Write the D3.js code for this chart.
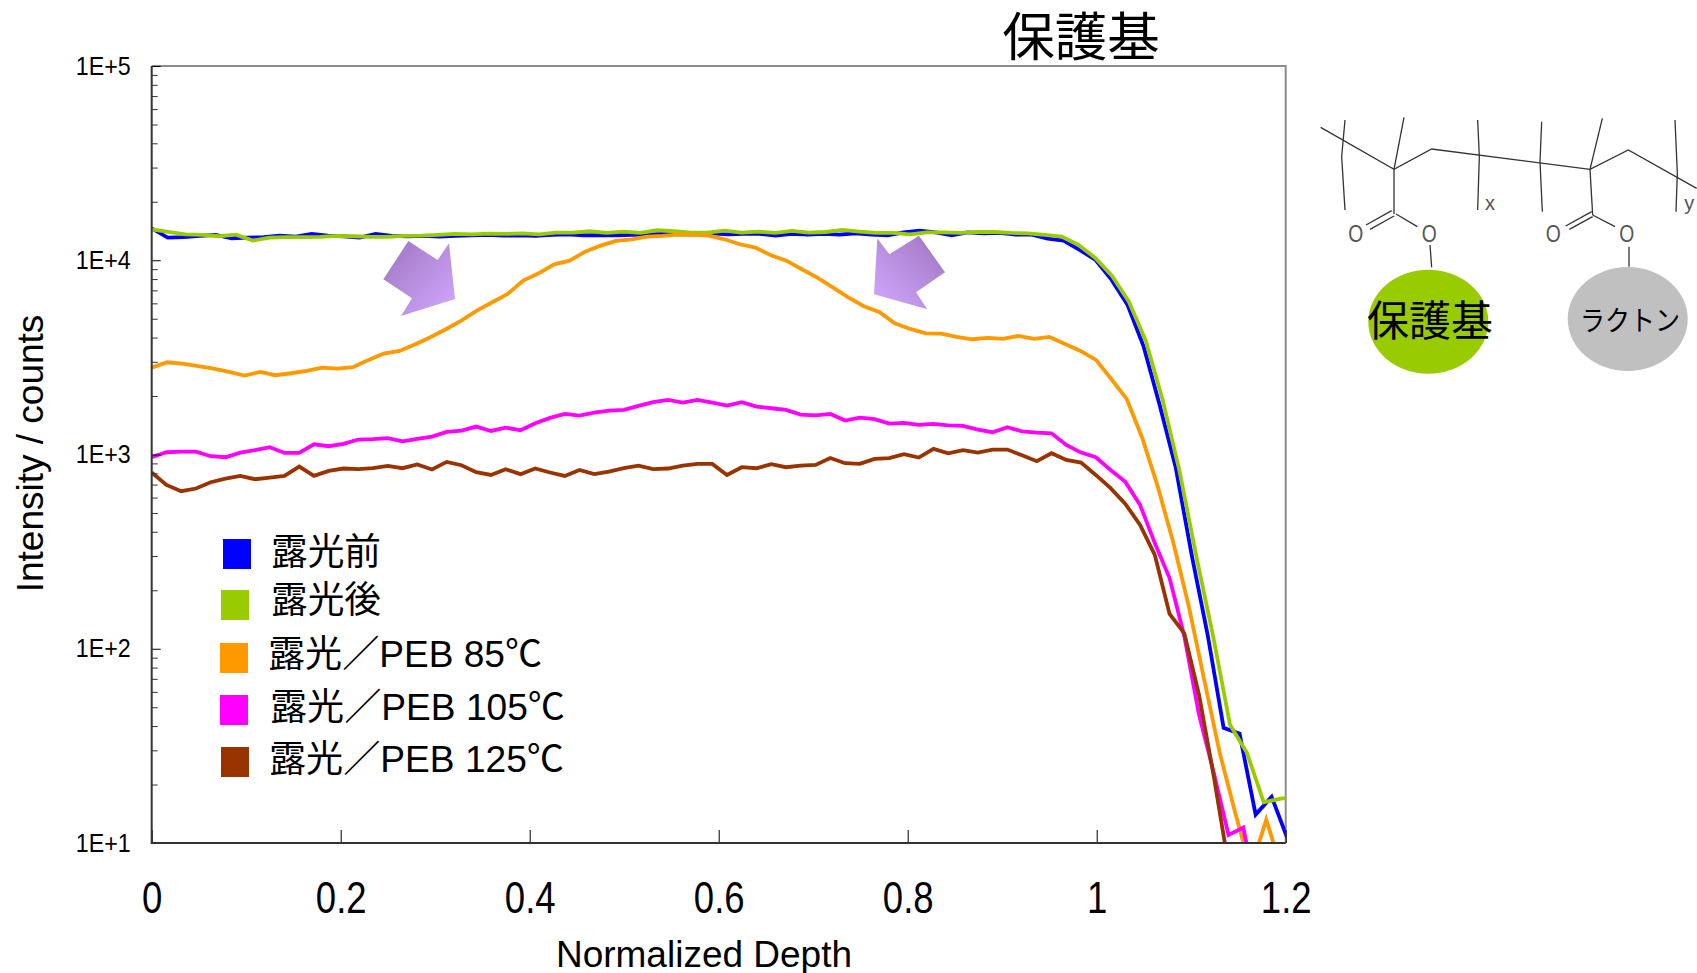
<!DOCTYPE html>
<html>
<head>
<meta charset="utf-8">
<script src="https://cdn.jsdelivr.net/npm/d3@7"></script>
<style>
  html, body { margin: 0; padding: 0; background: #fff; }
  svg { display: block; }
</style>
</head>
<body>
<svg id="chart"></svg>
<script>
// depth grids differ per profile, each one is normalized by its own film thickness
const depthBefore = [0,.0169,.0339,.0508,.0677,.0847,.1016,.1185,.1354,.1524,.1693,.1862,.2032,.2201,.2370,.2540,.2709,.2878,.3047,.3217,.3386,.3555,.3725,.3894,.4063,.4233,.4402,.4571,.4740,.4910,.5079,.5248,.5418,.5587,.5756,.5926,.6095,.6264,.6433,.6603,.6772,.6941,.7111,.7280,.7449,.7619,.7788,.7957,.8126,.8296,.8465,.8634,.8804,.8973,.9142,.9312,.9481,.9650,.9819,.9989,1.0158,1.0327,1.0497,1.0666,1.0835,1.1005,1.1174,1.1343,1.1512,1.1682,1.1851,1.2020]
const depthAfter = [0,.0178,.0357,.0535,.0713,.0892,.1070,.1248,.1426,.1605,.1783,.1961,.2140,.2318,.2496,.2675,.2853,.3031,.3209,.3388,.3566,.3744,.3923,.4101,.4279,.4458,.4636,.4814,.4992,.5171,.5349,.5527,.5706,.5884,.6062,.6241,.6419,.6597,.6775,.6954,.7132,.7310,.7489,.7667,.7845,.8024,.8202,.8380,.8558,.8737,.8915,.9093,.9272,.9450,.9628,.9807,.9985,1.0163,1.0341,1.0520,1.0698,1.0876,1.1055,1.1233,1.1411,1.1590,1.1768,1.1946,1.2124]
const depth85 = [0,.0164,.0328,.0491,.0655,.0819,.0983,.1147,.1310,.1474,.1638,.1802,.1966,.2129,.2293,.2457,.2621,.2785,.2948,.3112,.3276,.3440,.3604,.3767,.3931,.4095,.4259,.4423,.4586,.4750,.4914,.5078,.5242,.5405,.5569,.5733,.5897,.6061,.6224,.6388,.6552,.6716,.6880,.7043,.7207,.7371,.7535,.7699,.7862,.8026,.8190,.8354,.8518,.8681,.8845,.9009,.9173,.9337,.9500,.9664,.9828,.9992,1.0156,1.0319,1.0483,1.0647,1.0811,1.0975,1.1138,1.1302,1.1466,1.1630,1.1794,1.1957]
const depth105 = [0,.0156,.0312,.0468,.0624,.0781,.0937,.1093,.1249,.1405,.1561,.1717,.1873,.2029,.2185,.2342,.2498,.2654,.2810,.2966,.3122,.3278,.3434,.3590,.3746,.3903,.4059,.4215,.4371,.4527,.4683,.4839,.4995,.5151,.5307,.5464,.5620,.5776,.5932,.6088,.6244,.6400,.6556,.6712,.6868,.7025,.7181,.7337,.7493,.7649,.7805,.7961,.8117,.8273,.8429,.8586,.8742,.8898,.9054,.9210,.9366,.9522,.9678,.9834,.9990,1.0147,1.0303,1.0459,1.0615,1.0771,1.0927,1.1083,1.1239,1.1395,1.1551,1.1708]

const before = [14600,13080,13140,13340,13500,12980,13080,13140,13390,13240,13660,13390,13290,13080,13660,13340,13290,13340,13240,13340,13450,13500,13390,13450,13340,13500,13600,13450,13450,13450,13500,13550,13710,13600,13600,13760,13600,13660,13660,13390,13660,13550,13660,13550,13760,13550,13450,13930,14210,13930,13450,13930,13760,13820,13550,13550,12930,12630,11300,10035,7920,5886,3590,1800,863,304,118,39.2,36.5,14.0,17.3,10.5]
const after = [14440,13980,13600,13500,13290,13550,12630,13080,13140,13140,13190,13340,13290,13190,13190,13340,13390,13500,13660,13600,13710,13660,13760,13600,13870,13870,14100,13820,14040,13820,14270,14100,13870,13870,14210,13870,14040,13820,14150,13870,13980,14320,14040,13820,13820,13600,13930,13930,13820,13980,13980,13820,13760,13500,13240,11990,10280,8302,6122,3843,1910,823.6,298.1,115.6,40.6,29.1,16.2,16.9,17.3]
const peb85 = [2802,2985,2938,2847,2768,2661,2549,2661,2559,2620,2693,2802,2768,2813,3068,3307,3414,3680,4013,4414,4890,5506,6077,6708,7856,8568,9532,9956,11076,11895,12570,12820,13230,13340,13550,13500,13390,12820,12085,11615,10607,9956,8985,8140,7260,6447,5796,5420,4737,4431,4207,4191,4030,3920,3982,3935,4077,3935,4030,3708,3414,3068,2441,1926,1213,681,351,165,69.2,29.1,14.3,7.3,13.2,7.3]
const peb105 = [968,1027,1035,1035,980,968,1023,1052,1090,1019,1019,1129,1103,1134,1194,1199,1213,1170,1203,1236,1307,1328,1392,1322,1376,1333,1448,1543,1618,1586,1644,1683,1696,1779,1858,1910,1850,1910,1850,1786,1858,1765,1730,1696,1605,1592,1618,1495,1549,1519,1443,1454,1420,1437,1414,1403,1344,1302,1381,1317,1296,1286,1120,1023,968,833,723,550,350,231,116,45.7,23.0,11.0,12.0,5.1]
const peb125 = [808,697,647,668,720,752,776,746,761,776,867,776,824,847,840,850,874,850,888,837,916,881,811,785,840,792,847,808,776,833,792,817,850,877,840,847,877,895,895,785,860,850,891,860,877,884,960,902,895,949,957,1003,964,1069,1015,1052,1023,1060,1060,991,923,1015,938,908,785,671,557,434,304,151,120,57.9,22.0,7.7]

const seriesNames = ['露光前', '露光後', '露光／PEB 85℃', '露光／PEB 105℃', '露光／PEB 125℃']
const seriesColors = ['#0000ff', '#99cc00', '#ff9900', '#ff00ff', '#993300']
const seriesValues = [before, after, peb85, peb105, peb125]
const seriesDepths = [depthBefore, depthAfter, depth85, depth105, depth105]

const xTicks = [0, 0.2, 0.4, 0.6, 0.8, 1, 1.2]
const yMajor = [10, 100, 1000, 10000, 100000]

const width = 1697
const height = 973
const margin = {top: 66, right: 411.3, bottom: 130, left: 151.7}
const sans = '"Liberation Sans", Arial, sans-serif'
const cjk = '"Liberation Sans", "Noto Sans CJK JP", sans-serif'

const svg = d3.select('#chart').attr('width', width).attr('height', height)

const x = d3.scaleLinear().domain([0, 1.2]).range([margin.left, width - margin.right])
const y = d3.scaleLog().domain([10, 100000]).range([height - margin.bottom, margin.top])

// the original type is narrower than Liberation, squeeze it horizontally
function squeeze(sel, factor) {
    sel.each(function () {
        d3.select(this)
            .attr('textLength', this.getComputedTextLength() * factor)
            .attr('lengthAdjust', 'spacingAndGlyphs')
    })
}

svg.append('defs').append('clipPath').attr('id', 'plot')
    .append('rect')
    .attr('x', margin.left).attr('y', margin.top)
    .attr('width', x.range()[1] - x.range()[0])
    .attr('height', y.range()[0] - y.range()[1])

// arrow fill
const grad = svg.select('defs').append('linearGradient').attr('id', 'arrowL')
    .attr('x1', 0).attr('y1', 0).attr('x2', 1).attr('y2', 1)
grad.append('stop').attr('offset', '15%').attr('stop-color', '#a67cc9')
grad.append('stop').attr('offset', '85%').attr('stop-color', '#cba1f7')
const grad2 = svg.select('defs').append('linearGradient').attr('id', 'arrowR')
    .attr('x1', 1).attr('y1', 0).attr('x2', 0).attr('y2', 1)
grad2.append('stop').attr('offset', '15%').attr('stop-color', '#a67cc9')
grad2.append('stop').attr('offset', '85%').attr('stop-color', '#cba1f7')

// frame: top and right are grey, the axes are darker
svg.append('path')
    .attr('d', `M${x.range()[0]},${y.range()[1]}H${x.range()[1]}V${y.range()[0]}`)
    .attr('fill', 'none').attr('stroke', '#8c8c8c').attr('stroke-width', 2)

seriesValues.forEach((vals, s) => {
    const depth = seriesDepths[s]
    const line = d3.line().x((d, i) => x(depth[i])).y(d => y(d))
    svg.append('path')
        .datum(vals)
        .attr('d', line)
        .attr('clip-path', 'url(#plot)')
        .attr('fill', 'none')
        .attr('stroke', seriesColors[s])
        .attr('stroke-width', 3.8)
        .attr('stroke-linejoin', 'miter')
})

// minor ticks first, then the decades with their labels
svg.append('g')
    .attr('transform', `translate(${margin.left},0)`)
    .call(d3.axisLeft(y).tickValues(y.ticks().filter(d => !yMajor.includes(d))).tickSize(-6).tickFormat(''))
    .call(g => g.select('.domain').remove())
    .call(g => g.selectAll('line').attr('stroke', '#333'))

const yAxis = svg.append('g')
    .attr('transform', `translate(${margin.left},0)`)
    .call(d3.axisLeft(y).tickValues(yMajor).tickSize(-9).tickPadding(21)
        .tickFormat(d => '1E+' + Math.round(Math.log10(d))))
yAxis.select('.domain').remove()
yAxis.selectAll('line').attr('stroke', '#000')
yAxis.selectAll('text').attr('font-family', sans).attr('font-size', 25).attr('fill', '#000').call(squeeze, 0.93)

const xAxis = svg.append('g')
    .attr('transform', `translate(0,${height - margin.bottom})`)
    .call(d3.axisBottom(x).tickValues(xTicks).tickSize(-13).tickPadding(39).tickFormat(d => String(d)))
xAxis.select('.domain').remove()
xAxis.selectAll('line').attr('stroke', '#000')
xAxis.selectAll('text').attr('font-family', sans).attr('font-size', 44).attr('fill', '#000').call(squeeze, 0.83)

svg.append('path')
    .attr('d', `M${x.range()[0]},${y.range()[1]}V${y.range()[0]}H${x.range()[1]}`)
    .attr('fill', 'none').attr('stroke', '#333').attr('stroke-width', 2)

// axis titles
svg.append('text')
    .attr('x', 704).attr('y', 966.5)
    .attr('text-anchor', 'middle')
    .attr('font-family', sans).attr('font-size', 37)
    .text('Normalized Depth')
svg.append('text')
    .attr('transform', 'translate(43,453.5) rotate(-90)')
    .attr('text-anchor', 'middle')
    .attr('font-family', sans).attr('font-size', 37)
    .text('Intensity / counts')

svg.append('text')
    .attr('x', 1081).attr('y', 56)
    .attr('text-anchor', 'middle')
    .attr('font-family', cjk).attr('font-size', 52.5)
    .text('保護基')

// legend
const legendSwatchX = [223, 221, 220, 220, 221]
const legendSwatchY = [539, 590, 643, 695, 747]
const legendTextX = [271, 271, 268, 270, 269]
const legendTextY = [565, 613, 667, 720, 772]
const legendTextW = [110, 110, 274, 295, 295]
seriesNames.forEach((name, i) => {
    svg.append('rect')
        .attr('x', legendSwatchX[i]).attr('y', legendSwatchY[i])
        .attr('width', 28).attr('height', 30)
        .attr('fill', seriesColors[i])
    svg.append('text')
        .attr('x', legendTextX[i]).attr('y', legendTextY[i])
        .attr('font-family', cjk).attr('font-size', 37)
        .attr('textLength', legendTextW[i]).attr('lengthAdjust', 'spacingAndGlyphs')
        .text(name)
})

// the two purple arrows
const arrowLeft = [[835,123],[923,180],[957,130],[975,297],[813,348],[846,295],[760,238]]
const arrowRight = [[897,107],[975,217],[888,277],[922,328],[762,283],[772,115],[808,163]]
svg.append('polygon')
    .attr('points', arrowLeft.map(p => [130 + p[0] / 3, 200 + p[1] / 3].join(',')).join(' '))
    .attr('fill', 'url(#arrowL)')
svg.append('polygon')
    .attr('points', arrowRight.map(p => [620 + p[0] / 3, 200 + p[1] / 3].join(',')).join(' '))
    .attr('fill', 'url(#arrowR)')

// polymer structure, coordinates taken in the 3x crop of that corner
const sx = v => 1290 + v / 3
const sy = v => 90 + v / 3
const bonds = [
    [[92,112],[312,238],[425,177],[900,238],[1015,180],[1220,295]],
    [[312,238],[342,82]],
    [[900,238],[937,85]],
    [[312,238],[312,372]],
    [[900,238],[908,375]],
    [[165,90],[155,200],[165,360]],
    [[563,90],[568,200],[563,360]],
    [[755,95],[750,215],[757,365]],
    [[1155,90],[1162,250],[1158,365]],
    [[305,362],[228,405]],
    [[312,378],[240,418]],
    [[318,372],[382,410]],
    [[905,365],[827,408]],
    [[908,380],[838,418]],
    [[908,375],[975,410]],
    [[420,465],[425,532]],
    [[1017,470],[1017,530]]
]
const bondLine = d3.line().x(p => sx(p[0])).y(p => sy(p[1]))
svg.append('g').selectAll('path').data(bonds).join('path')
    .attr('d', bondLine)
    .attr('fill', 'none').attr('stroke', '#333').attr('stroke-width', 1.3)

const atoms = [['O',197,432],['O',418,432],['O',790,432],['O',1010,432],['x',600,338],['y',1198,340]]
svg.append('g').selectAll('text').data(atoms).join('text')
    .attr('x', d => sx(d[1])).attr('y', d => sy(d[2]))
    .attr('dy', '0.35em')
    .attr('text-anchor', 'middle')
    .attr('font-family', sans)
    .attr('font-size', d => d[0] === 'O' ? 23 : 20)
    .attr('fill', '#555')
    .attr('textLength', d => d[0] === 'O' ? 15 : null)
    .attr('lengthAdjust', 'spacingAndGlyphs')
    .text(d => d[0])

svg.append('ellipse').attr('cx', 1428.3).attr('cy', 321.7).attr('rx', 60).attr('ry', 52).attr('fill', '#99cc00')
svg.append('ellipse').attr('cx', 1627.7).attr('cy', 319).attr('rx', 60).attr('ry', 52).attr('fill', '#c0c0c0')
svg.append('text').attr('x', 1430).attr('y', 336)
    .attr('text-anchor', 'middle').attr('font-family', cjk).attr('font-size', 42)
    .text('保護基')
svg.append('text').attr('x', 1630).attr('y', 331)
    .attr('text-anchor', 'middle').attr('font-family', cjk).attr('font-size', 28)
    .attr('textLength', 100).attr('lengthAdjust', 'spacingAndGlyphs')
    .text('ラクトン')
</script>
</body>
</html>
